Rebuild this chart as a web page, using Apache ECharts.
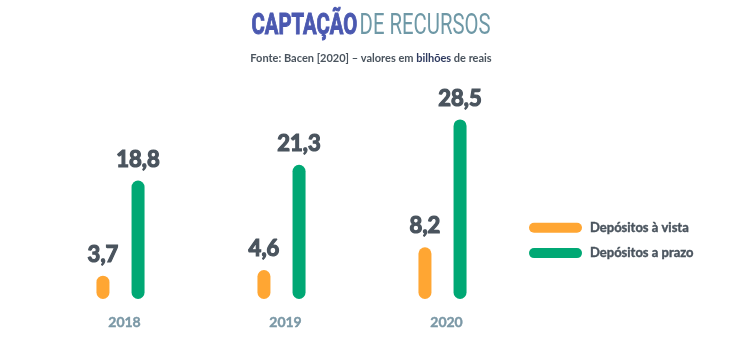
<!DOCTYPE html>
<html>
<head>
<meta charset="utf-8">
<script src="https://cdn.jsdelivr.net/npm/echarts@6/dist/echarts.min.js"></script>
<style>
  html, body { margin: 0; padding: 0; background: #ffffff; }
  #chart { width: 742px; height: 343px; }
</style>
</head>
<body>
<div id="chart"></div>
<script>
// Anos e valores (bilhões de reais)
const years = ['2018', '2019', '2020'];
const depositosVista = [3.7, 4.6, 8.2];
const depositosPrazo = [18.8, 21.3, 28.5];
const seriesNames = ['Depósitos à vista', 'Depósitos a prazo'];

const ORANGE = '#ffa633';
const GREEN = '#00a874';
const DARK = '#4a545e';

const chart = echarts.init(document.getElementById('chart'), null, { renderer: 'canvas' });

const fmt = p => p.value.toFixed(1).replace('.', ',');

const pill = 'path://M5,0 H48 A5,5 0 0 1 48,10 H5 A5,5 0 0 1 5,0 Z';

function barSeries(name, data, color) {
  return {
    name: name,
    type: 'bar',
    data: data,
    barWidth: 13,
    barGap: '170%',
    itemStyle: { color: color, borderRadius: 6.5 },
    label: {
      show: true,
      position: 'top',
      distance: 10,
      formatter: fmt,
      color: DARK,
      fontFamily: 'Lato',
      fontWeight: 'bold',
      fontSize: 22,
      textBorderColor: DARK,
      textBorderWidth: 1.2
    }
  };
}

chart.setOption({
  animation: false,
  graphic: [
    {
      // condensed headline, narrowed horizontally
      type: 'text',
      x: 371,
      y: 12,
      scaleX: 0.7,
      originX: 0,
      style: {
        text: '{a|CAPTAÇÃO} {b|DE RECURSOS}',
        align: 'center',
        verticalAlign: 'top',
        rich: {
          a: { fontFamily: 'Roboto', fontWeight: 'bold', fontSize: 29, fill: '#4a58b0',
               stroke: '#4a58b0', lineWidth: 1 },
          b: { fontFamily: 'Roboto', fontWeight: 'normal', fontSize: 29, fill: '#6e98a6' }
        }
      }
    }
  ],
  title: [
    {
      text: '{n|Fonte: Bacen [2020] – valores em }{s|bilhões}{n| de reais}',
      left: 'center',
      top: 48,
      textStyle: {
        rich: {
          n: { fontFamily: 'Lato', fontSize: 11, color: '#4a545e' },
          s: { fontFamily: 'Lato', fontSize: 11, fontWeight: 'bold', color: '#2f3b60' }
        }
      }
    }
  ],
  legend: {
    orient: 'vertical',
    left: 529,
    top: 221,
    padding: 0,
    itemWidth: 53,
    itemHeight: 10,
    itemGap: 12,
    icon: pill,
    data: seriesNames,
    textStyle: {
      color: DARK, fontFamily: 'Lato', fontWeight: 'bold', fontSize: 13,
      textBorderColor: DARK, textBorderWidth: 0.4, padding: [0, 0, 0, 3]
    }
  },
  grid: { left: 40, right: 219, top: 110, bottom: 44 },
  xAxis: {
    type: 'category',
    data: years,
    axisLine: { show: false },
    axisTick: { show: false },
    axisLabel: {
      margin: 16, color: '#7b98a6', fontFamily: 'Lato', fontWeight: 'bold', fontSize: 14,
      textBorderColor: '#7b98a6', textBorderWidth: 0.4, padding: [0, 0, 0, 8]
    }
  },
  yAxis: {
    type: 'value',
    min: 0,
    max: 30,
    show: false,
    splitLine: { show: false }
  },
  series: [
    barSeries(seriesNames[0], depositosVista, ORANGE),
    barSeries(seriesNames[1], depositosPrazo, GREEN)
  ]
});
</script>
</body>
</html>
